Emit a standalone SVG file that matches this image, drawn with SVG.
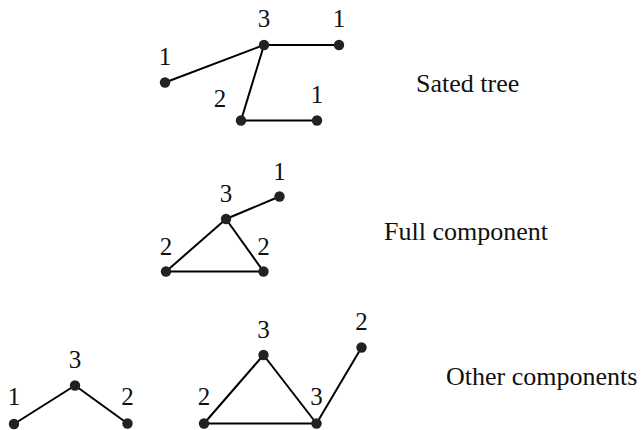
<svg xmlns="http://www.w3.org/2000/svg" width="642" height="430" viewBox="0 0 642 430">
  <style>
    .edge { stroke: #000; stroke-width: 2; fill: none; }
    .dot { fill: #222; }
    .lbl { font-family: "Liberation Serif", "Times New Roman", serif; font-size: 25px; fill: #111; text-anchor: middle; }
    .cap { font-family: "Liberation Serif", "Times New Roman", serif; font-size: 26px; fill: #111; }
  </style>
  <rect width="642" height="430" fill="#fff"/>

  <!-- edges -->
  <g id="connectors">
    <!-- sated tree -->
    <line class="edge" x1="264" y1="45" x2="339" y2="45"/>
    <line class="edge" x1="264" y1="45" x2="165" y2="82.5"/>
    <line class="edge" x1="264" y1="45" x2="241" y2="120.5"/>
    <line class="edge" x1="241" y1="120.5" x2="317" y2="120.5"/>
    <!-- full component -->
    <line class="edge" x1="226" y1="219" x2="279.5" y2="196.5"/>
    <line class="edge" x1="226" y1="219" x2="166" y2="271.5"/>
    <line class="edge" x1="226" y1="219" x2="263.5" y2="271.5"/>
    <line class="edge" x1="166" y1="271.5" x2="263.5" y2="271.5"/>
    <!-- other components: path -->
    <line class="edge" x1="75" y1="385.5" x2="14" y2="424"/>
    <line class="edge" x1="75" y1="385.5" x2="127.5" y2="423.5"/>
    <!-- other components: triangle with pendant -->
    <line class="edge" x1="263.5" y1="355" x2="204" y2="423.5"/>
    <line class="edge" x1="263.5" y1="355" x2="316.5" y2="423.5"/>
    <line class="edge" x1="204" y1="423.5" x2="316.5" y2="423.5"/>
    <line class="edge" x1="316.5" y1="423.5" x2="361.5" y2="347.5"/>
  </g>

  <!-- sated tree -->
  <g id="st-a"><circle class="dot" cx="264" cy="45" r="5.2"/><text class="lbl" x="264" y="27">3</text></g>
  <g id="st-b"><circle class="dot" cx="339" cy="45" r="5.2"/><text class="lbl" x="339" y="27">1</text></g>
  <g id="st-c"><circle class="dot" cx="165" cy="82.5" r="5.2"/><text class="lbl" x="165" y="65">1</text></g>
  <g id="st-d"><circle class="dot" cx="241" cy="120.5" r="5.2"/><text class="lbl" x="220" y="107">2</text></g>
  <g id="st-e"><circle class="dot" cx="317" cy="120.5" r="5.2"/><text class="lbl" x="317" y="103">1</text></g>
  <g id="st-caption"><text class="cap" x="416" y="92">Sated tree</text></g>

  <!-- full component -->
  <g id="fc-a"><circle class="dot" cx="226" cy="219" r="5.2"/><text class="lbl" x="226" y="201.5">3</text></g>
  <g id="fc-b"><circle class="dot" cx="279.5" cy="196.5" r="5.2"/><text class="lbl" x="279.5" y="179.5">1</text></g>
  <g id="fc-c"><circle class="dot" cx="166" cy="271.5" r="5.2"/><text class="lbl" x="166" y="255">2</text></g>
  <g id="fc-d"><circle class="dot" cx="263.5" cy="271.5" r="5.2"/><text class="lbl" x="263.5" y="255">2</text></g>
  <g id="fc-caption"><text class="cap" x="384" y="240">Full component</text></g>

  <!-- other components -->
  <g id="oc-a"><circle class="dot" cx="14" cy="424" r="5.2"/><text class="lbl" x="14" y="405">1</text></g>
  <g id="oc-b"><circle class="dot" cx="75" cy="385.5" r="5.2"/><text class="lbl" x="75" y="368">3</text></g>
  <g id="oc-c"><circle class="dot" cx="127.5" cy="423.5" r="5.2"/><text class="lbl" x="127.5" y="405">2</text></g>
  <g id="oc-d"><circle class="dot" cx="204" cy="423.5" r="5.2"/><text class="lbl" x="204" y="405">2</text></g>
  <g id="oc-e"><circle class="dot" cx="263.5" cy="355" r="5.2"/><text class="lbl" x="263.5" y="337.5">3</text></g>
  <g id="oc-f"><circle class="dot" cx="316.5" cy="423.5" r="5.2"/><text class="lbl" x="316.5" y="405">3</text></g>
  <g id="oc-g"><circle class="dot" cx="361.5" cy="347.5" r="5.2"/><text class="lbl" x="361.5" y="329.5">2</text></g>
  <g id="oc-caption"><text class="cap" x="446" y="385">Other components</text></g>
</svg>
